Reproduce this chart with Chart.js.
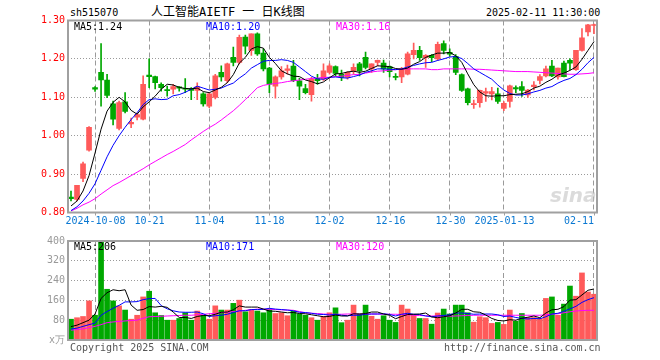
<!DOCTYPE html>
<html>
<head>
<meta charset="utf-8">
<script src="https://cdn.jsdelivr.net/npm/chart.js@4.4.1/dist/chart.umd.min.js"></script>
<style>
  body { margin: 0; background: #fff; width: 660px; height: 360px; overflow: hidden; position: relative; }
  .t { position: absolute; white-space: nowrap; font-family: "DejaVu Sans Mono", monospace; font-size: 10px; line-height: 12px; }
  canvas { position: absolute; left: 0; }
</style>
</head>
<body>
<div class="t" style="left:70px;top:7px;">sh515070</div>
<div class="t" style="left:151px;top:5px;font-size:12px;line-height:14px;font-family:'DejaVu Sans Mono','Noto Sans CJK SC',monospace;">人工智能AIETF 一 日K线图</div>
<div class="t" style="left:486px;top:7px;">2025-02-11 11:30:00</div>

<canvas id="kline" width="660" height="232" style="top:0"></canvas>
<canvas id="vol" width="660" height="128" style="top:232px"></canvas>

<div class="t" style="left:74px;top:21px;color:#000;">MA5:1.24</div>
<div class="t" style="left:206px;top:21px;color:#0000ff;">MA10:1.20</div>
<div class="t" style="left:336px;top:21px;color:#ff00ff;">MA30:1.16</div>
<div class="t" style="left:74px;top:241px;color:#000;">MA5:206</div>
<div class="t" style="left:206px;top:241px;color:#0000ff;">MA10:171</div>
<div class="t" style="left:336px;top:241px;color:#ff00ff;">MA30:120</div>

<div class="t" style="left:550px;top:184px;font-family:'DejaVu Sans',sans-serif;font-size:20px;line-height:22px;font-style:italic;font-weight:bold;color:rgba(190,190,190,0.55);">sina</div>

<div class="t" style="left:70px;top:342px;color:#555;">Copyright 2025 SINA.COM</div>
<div class="t" style="left:444px;top:342px;color:#555;">http://finance.sina.com.cn</div>

<script>
// ---- data ----
const dates = [
  "2024-09-25","2024-09-26","2024-09-27","2024-09-30","2024-10-08","2024-10-09","2024-10-10","2024-10-11",
  "2024-10-14","2024-10-15","2024-10-16","2024-10-17","2024-10-18","2024-10-21","2024-10-22","2024-10-23",
  "2024-10-24","2024-10-25","2024-10-28","2024-10-29","2024-10-30","2024-10-31","2024-11-01","2024-11-04",
  "2024-11-05","2024-11-06","2024-11-07","2024-11-08","2024-11-11","2024-11-12","2024-11-13","2024-11-14",
  "2024-11-15","2024-11-18","2024-11-19","2024-11-20","2024-11-21","2024-11-22","2024-11-25","2024-11-26",
  "2024-11-27","2024-11-28","2024-11-29","2024-12-02","2024-12-03","2024-12-04","2024-12-05","2024-12-06",
  "2024-12-09","2024-12-10","2024-12-11","2024-12-12","2024-12-13","2024-12-16","2024-12-17","2024-12-18",
  "2024-12-19","2024-12-20","2024-12-23","2024-12-24","2024-12-25","2024-12-26","2024-12-27","2024-12-30",
  "2024-12-31","2025-01-02","2025-01-03","2025-01-06","2025-01-07","2025-01-08","2025-01-09","2025-01-10",
  "2025-01-13","2025-01-14","2025-01-15","2025-01-16","2025-01-17","2025-01-20","2025-01-21","2025-01-22",
  "2025-01-23","2025-01-24","2025-01-27","2025-02-05","2025-02-06","2025-02-07","2025-02-10","2025-02-11"
];

const opens = [
  0.840,0.834,0.889,0.962,1.125,1.165,1.145,1.083,1.019,1.088,
  1.031,1.048,1.043,1.158,1.154,1.134,1.120,1.121,1.127,1.123,
  1.123,1.118,1.109,1.077,1.100,1.165,1.143,1.204,1.191,1.257,
  1.222,1.265,1.215,1.176,1.129,1.153,1.170,1.181,1.143,1.123,
  1.107,1.149,1.147,1.165,1.180,1.160,1.152,1.169,1.187,1.204,
  1.174,1.191,1.189,1.180,1.154,1.153,1.160,1.211,1.222,1.203,
  1.209,1.200,1.240,1.217,1.207,1.159,1.122,1.081,1.086,1.111,
  1.109,1.109,1.071,1.089,1.125,1.128,1.106,1.128,1.144,1.156,
  1.181,1.153,1.189,1.196,1.172,1.222,1.270,1.287
];
const closes = [
  0.836,0.871,0.927,1.022,1.121,1.145,1.105,1.043,1.086,1.063,
  1.035,1.055,1.134,1.154,1.138,1.125,1.117,1.128,1.124,1.121,
  1.118,1.127,1.083,1.109,1.156,1.153,1.187,1.191,1.256,1.233,
  1.265,1.213,1.174,1.134,1.153,1.169,1.174,1.143,1.129,1.112,
  1.147,1.143,1.169,1.182,1.162,1.152,1.165,1.178,1.169,1.178,
  1.187,1.196,1.174,1.167,1.152,1.174,1.213,1.222,1.203,1.209,
  1.203,1.238,1.222,1.212,1.165,1.118,1.086,1.083,1.118,1.115,
  1.115,1.089,1.084,1.130,1.122,1.118,1.119,1.132,1.154,1.174,
  1.156,1.176,1.154,1.189,1.222,1.255,1.289,1.289
];
const highs = [
  0.856,0.871,0.931,1.024,1.128,1.240,1.160,1.090,1.090,1.112,
  1.046,1.059,1.156,1.200,1.155,1.138,1.129,1.134,1.128,1.149,
  1.125,1.138,1.112,1.112,1.160,1.182,1.189,1.231,1.262,1.262,
  1.265,1.268,1.226,1.178,1.156,1.180,1.184,1.196,1.150,1.134,
  1.152,1.160,1.187,1.187,1.182,1.171,1.167,1.187,1.191,1.218,
  1.187,1.197,1.197,1.182,1.162,1.178,1.218,1.241,1.233,1.211,
  1.211,1.244,1.247,1.226,1.211,1.161,1.124,1.093,1.119,1.124,
  1.126,1.124,1.089,1.132,1.130,1.141,1.121,1.141,1.159,1.181,
  1.196,1.176,1.194,1.200,1.222,1.279,1.290,1.291
];
const lows = [
  0.830,0.830,0.880,0.960,1.115,1.077,1.099,1.028,1.015,1.059,
  1.021,1.041,1.041,1.125,1.122,1.116,1.103,1.109,1.116,1.112,
  1.094,1.094,1.077,1.073,1.096,1.142,1.138,1.182,1.187,1.213,
  1.209,1.209,1.169,1.112,1.098,1.147,1.160,1.141,1.094,1.109,
  1.090,1.134,1.144,1.160,1.156,1.143,1.147,1.160,1.156,1.174,
  1.165,1.182,1.165,1.153,1.145,1.138,1.158,1.200,1.196,1.178,
  1.193,1.196,1.213,1.207,1.159,1.115,1.080,1.071,1.074,1.089,
  1.093,1.084,1.065,1.074,1.112,1.102,1.100,1.119,1.135,1.153,
  1.154,1.147,1.153,1.172,1.170,1.220,1.260,1.266
];

const ma5 = [
  0.817,0.830,0.856,0.896,0.955,1.017,1.064,1.087,1.100,1.088,
  1.066,1.056,1.075,1.088,1.103,1.121,1.134,1.132,1.126,1.123,
  1.122,1.124,1.115,1.112,1.119,1.126,1.138,1.159,1.189,1.204,
  1.226,1.232,1.228,1.204,1.188,1.169,1.161,1.155,1.154,1.145,
  1.141,1.135,1.140,1.151,1.161,1.162,1.166,1.168,1.165,1.168,
  1.175,1.182,1.181,1.180,1.175,1.173,1.176,1.186,1.193,1.204,
  1.210,1.215,1.215,1.217,1.208,1.191,1.161,1.133,1.114,1.104,
  1.103,1.104,1.104,1.107,1.108,1.109,1.115,1.124,1.129,1.139,
  1.147,1.158,1.163,1.170,1.179,1.199,1.222,1.245
];
const ma10 = [
  0.805,0.815,0.830,0.850,0.875,0.910,0.945,0.975,1.000,1.022,
  1.042,1.060,1.081,1.094,1.096,1.094,1.095,1.104,1.107,1.113,
  1.121,1.129,1.124,1.119,1.121,1.124,1.131,1.137,1.150,1.161,
  1.176,1.185,1.194,1.196,1.196,1.198,1.196,1.191,1.179,1.167,
  1.155,1.148,1.147,1.152,1.153,1.151,1.150,1.154,1.158,1.165,
  1.169,1.174,1.174,1.173,1.172,1.174,1.179,1.183,1.187,1.190,
  1.191,1.196,1.200,1.205,1.206,1.201,1.188,1.174,1.165,1.156,
  1.147,1.132,1.119,1.110,1.106,1.106,1.109,1.114,1.118,1.124,
  1.128,1.137,1.144,1.149,1.159,1.173,1.190,1.204
];
const ma30 = [
  0.804,0.811,0.820,0.827,0.836,0.848,0.859,0.870,0.878,0.887,
  0.896,0.905,0.914,0.924,0.933,0.942,0.951,0.959,0.968,0.977,
  0.989,1.000,1.011,1.021,1.030,1.041,1.053,1.065,1.079,1.094,
  1.109,1.125,1.131,1.134,1.136,1.138,1.141,1.143,1.145,1.147,
  1.149,1.150,1.152,1.152,1.154,1.155,1.157,1.159,1.160,1.163,
  1.166,1.168,1.169,1.171,1.172,1.173,1.174,1.174,1.174,1.174,
  1.172,1.172,1.174,1.174,1.174,1.174,1.174,1.173,1.173,1.172,
  1.171,1.170,1.169,1.168,1.167,1.167,1.167,1.166,1.165,1.164,
  1.163,1.162,1.161,1.160,1.160,1.161,1.162,1.164
];

// volume, 万手
const volumes = [
  84,90,95,158,100,395,205,158,138,121,
  84,100,174,197,110,99,80,80,87,110,
  80,117,100,84,138,121,121,148,161,114,
  123,117,110,123,107,110,98,117,105,100,
  90,80,95,110,130,70,80,141,105,141,
  96,84,98,80,71,141,125,103,87,87,
  64,109,125,105,141,141,110,72,94,90,
  67,71,63,121,76,107,91,91,87,168,
  174,100,145,218,177,271,194,185
];
const volMa5 = [
  54,60,70,80,105,168,191,203,199,203,
  141,120,123,135,133,136,132,113,91,91,
  87,95,99,98,104,112,113,122,138,133,
  133,133,125,117,116,113,110,111,107,106,
  102,98,94,95,101,97,97,106,105,107,
  113,113,105,100,86,95,103,104,105,109,
  93,90,94,98,109,124,124,114,112,101,
  87,79,77,82,80,88,92,97,90,109,
  122,124,135,161,163,182,201,206
];
const volMa10 = [
  44,48,55,62,68,100,115,128,140,154,
  154,155,163,167,168,139,126,118,113,112,
  112,113,106,95,98,100,104,111,118,118,
  123,123,124,128,125,123,121,118,112,111,
  108,104,103,101,104,100,98,100,100,104,
  105,105,106,103,97,104,108,104,103,97,
  94,97,99,102,109,109,107,104,105,105,
  105,102,95,97,91,87,85,87,86,94,
  105,108,116,126,136,152,163,171
];
const volMa30 = [
  40,42,45,50,55,62,70,73,75,77,
  79,80,88,94,95,96,97,98,99,100,
  100,102,104,106,108,110,112,115,117,120,
  122,125,125,124,123,122,121,120,115,110,
  108,107,105,104,104,104,105,105,105,105,
  105,105,104,104,104,103,102,100,99,98,
  97,97,96,96,97,98,99,100,100,100,
  100,100,100,100,100,100,100,100,100,102,
  104,106,110,114,117,119,120,120
];

const tickDates = ["2024-10-08","2024-10-21","2024-11-04","2024-11-18","2024-12-02","2024-12-16","2024-12-30","2025-01-13","2025-02-11"];
const tickText  = ["2024-10-08","10-21","11-04","11-18","12-02","12-16","12-30","2025-01-13","02-11"];
const priceTicks = [0.8, 0.9, 1.0, 1.1, 1.2, 1.3];
const volTicks = [0, 80, 160, 240, 320, 400];

// ---- styling ----
const UP = "#ff5a5a", DOWN = "#00a800";
const GRID = "#9a9a9a";
const MONO = "'DejaVu Sans Mono', monospace";
const PLOT_LEFT = 68, PLOT_RIGHT = 597;

const candleColor = closes.map((c, i) => c >= opens[i] ? UP : DOWN);
const tickIdx = tickDates.map(d => dates.indexOf(d));

const frame = {
  id: "frame",
  afterDraw(chart) {
    const { ctx, chartArea: a } = chart;
    ctx.save();
    ctx.strokeStyle = "#a0a0a0";
    ctx.lineWidth = 2;
    ctx.strokeRect(a.left, a.top, a.right - a.left, a.bottom - a.top);
    ctx.restore();
  }
};

const dateLabels = {
  id: "dateLabels",
  afterDraw(chart) {
    const { ctx, chartArea: a, scales: { x } } = chart;
    ctx.save();
    ctx.font = "10px " + MONO;
    ctx.fillStyle = "#0a78d2";
    ctx.textBaseline = "middle";
    ctx.strokeStyle = "#a0a0a0";
    ctx.lineWidth = 1;
    tickIdx.forEach((idx, k) => {
      const px = Math.round(x.getPixelForValue(idx)) + 0.5;
      ctx.beginPath();
      ctx.moveTo(px, a.bottom);
      ctx.lineTo(px, a.bottom + 3);
      ctx.stroke();
      const w = ctx.measureText(tickText[k]).width;
      let left = px - w / 2;
      if (left + w > a.right - 3) left = a.right - 3 - w;
      ctx.fillText(tickText[k], left, a.bottom + 9);
    });
    ctx.restore();
  }
};

function xScale(h) {
  return {
    offset: true,
    ticks: { display: false, autoSkip: false },
    grid: {
      offset: false,
      drawTicks: false,
      color: ctx => tickIdx.includes(ctx.index) ? GRID : "rgba(0,0,0,0)"
    },
    border: { display: false, dash: [5, 3] },
    afterFit(s) { s.height = h; }
  };
}

function yScale(min, max, ticks, color, fmt) {
  return {
    min, max,
    afterBuildTicks(s) { s.ticks = ticks.map(v => ({ value: v })); },
    ticks: { color, padding: 3, font: { family: MONO, size: 10 }, callback: fmt },
    grid: {
      drawTicks: false,
      color: ctx => (ctx.tick && (ctx.tick.value === min || ctx.tick.value === max)) ? "rgba(0,0,0,0)" : GRID
    },
    border: { display: false, dash: [1, 2] },
    afterFit(s) { s.width = PLOT_LEFT; }
  };
}

const lineDs = (data, color) => ({
  type: "line", data, borderColor: color, borderWidth: 1,
  pointRadius: 0, tension: 0, order: 0
});

const base = {
  responsive: false,
  animation: false,
  events: [],
  plugins: { legend: { display: false }, tooltip: { enabled: false } }
};

new Chart(document.getElementById("kline"), {
  type: "bar",
  data: {
    labels: dates,
    datasets: [
      lineDs(ma5, "#000000"),
      lineDs(ma10, "#0000ff"),
      lineDs(ma30, "#ff00ff"),
      {
        data: dates.map((d, i) => [lows[i], highs[i]]),
        backgroundColor: candleColor, barThickness: 1, grouped: false, order: 2
      },
      {
        data: dates.map((d, i) => [opens[i], closes[i]]),
        backgroundColor: candleColor, barThickness: 5, minBarLength: 1, grouped: false, order: 1
      }
    ]
  },
  options: {
    ...base,
    layout: { padding: { top: 20.5, right: 660 - PLOT_RIGHT, left: 0, bottom: 0 } },
    scales: {
      x: xScale(19.5),
      y: yScale(0.8, 1.3, priceTicks, "#ff0000", v => Number(v).toFixed(2))
    }
  },
  plugins: [frame, dateLabels]
});

new Chart(document.getElementById("vol"), {
  type: "bar",
  data: {
    labels: dates,
    datasets: [
      lineDs(volMa5, "#000000"),
      lineDs(volMa10, "#0000ff"),
      lineDs(volMa30, "#ff00ff"),
      { data: volumes, backgroundColor: candleColor, barThickness: 5, order: 1 }
    ]
  },
  options: {
    ...base,
    layout: { padding: { top: 8.7, right: 660 - PLOT_RIGHT, left: 0, bottom: 0 } },
    scales: {
      x: xScale(20),
      y: yScale(0, 400, volTicks, "#999999", v => v === 0 ? "x万" : String(v))
    }
  },
  plugins: [frame]
});
</script>
</body>
</html>
